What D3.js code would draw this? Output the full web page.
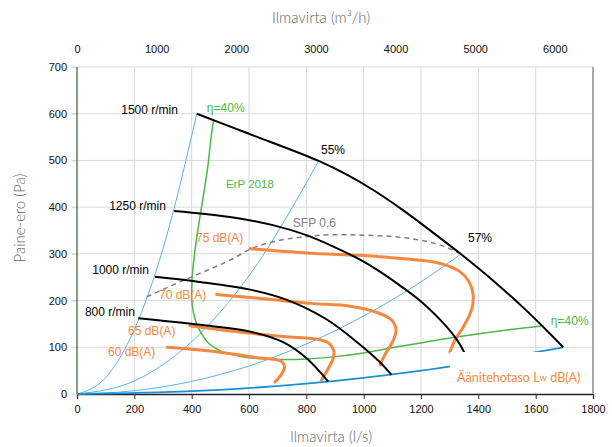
<!DOCTYPE html>
<html><head><meta charset="utf-8">
<script src="https://cdn.jsdelivr.net/npm/d3@7"></script>
<style>body{margin:0;background:#fff}svg{display:block}</style>
</head><body>
<svg id="c" width="612" height="447"></svg>
<script>
// ---- data (flow l/s, pressure Pa) ----
const xTicks = [0,200,400,600,800,1000,1200,1400,1600,1800];
const yTicks = [0,100,200,300,400,500,600,700];
const topTicks = [0,1000,2000,3000,4000,5000,6000]; // m3/h

const fan1500 = [[418,600],[600,557],[843,499],[943,469],[1043,433],[1143,391],[1243,345],[1340,299],[1451,243],[1567,179],[1637,137],[1696,100]];
const fan1250 = [[339,392],[534,379],[680,362],[800,340],[900,314],[989,287],[1054,263],[1127,232],[1206,195],[1270,157],[1322,119],[1352,88],[1370,62]];
const fan1000 = [[272,251],[428,240],[600,224],[730,202],[870,160],[975,112],[1057,68],[1097,41]];
const fan800  = [[214,162],[430,148],[602,134],[719,111],[800,77],[876,27]];

const sysSteep = [[0,0],[100,35],[200,138],[300,311],[418,600]];
const sys55    = [[0,0],[200,28],[400,112],[600,253],[843,499]];
const sys57    = [[0,0],[200,7],[400,27],[600,60],[800,107],[1000,167],[1200,240],[1340,300]];
const sysLow   = [[0,0],[400,6],[800,22],[1200,50],[1696,100]];

const eta40 = [[476,586],[466,540],[457,490],[445,440],[429,380],[410,300],[401,240],[402,190],[412,160],[429,135],[460,108],[499,93],[545,84],[592,78],[700,74],[800,75],[900,80],[1000,88],[1127,102],[1313,121],[1500,137],[1628,146]];
const sfp06 = [[243,208],[330,232],[420,256],[545,290],[604,310],[700,328],[801,337],[900,341],[1000,340],[1100,337],[1200,329],[1280,316],[1340,300]];

const db75 = [[604,311],[800,302],[975,297],[1057,294],[1150,289],[1264,280],[1336,262],[1368,240],[1382,212],[1376,180],[1348,144],[1318,115],[1301,90]];
const db70 = [[487,213],[650,204],[813,194],[952,188],[1045,175],[1098,158],[1113,137],[1101,112],[1074,84],[1057,62]];
const db65 = [[394,146],[560,133],[720,123],[848,116],[880,108],[896,92],[893,75],[877,55],[853,30]];
const db60 = [[315,100],[429,94],[550,85],[638,77],[700,73],[718,67],[724,57],[712,41],[691,26]];

// label texts with anchor points in data units
const rpmLabels = [["1500 r/min",352,608],["1250 r/min",310,402],["1000 r/min",251,265],["800 r/min",202,176]];
const dbLabels  = [["75 dB(A)",415,334],["70 dB(A)",286,212],["65 dB(A)",178,135],["60 dB(A)",108,90]];
const effLabels = [["55%",851,522],["57%",1364,334]];
const etaLabels = [["η=40%",453,612],["η=40%",1653,156]];
const erpLabel  = ["ErP 2018",520,450];
const sfpLabel  = ["SFP 0,6",753,366];
const noiseLabel = [1326,36];
const noiseBox = [[1301,90],[1795,5]];

// ---- chart ----
const svg = d3.select("#c");
const x = d3.scaleLinear([0,1800],[77,593]);
const y = d3.scaleLinear([0,700],[394,67]);
const xTop = d3.scaleLinear([0,1800*3.6],[77,593]);
const tickFont = "'Liberation Sans', Arial, sans-serif";
const titleFont = "Lato, 'Open Sans', sans-serif";
const fmt = d3.format("d");

// grid
svg.append("g").selectAll("line").data(xTicks.slice(1)).join("line")
  .attr("x1",d=>x(d)).attr("x2",d=>x(d)).attr("y1",y(700)).attr("y2",y(0))
  .attr("stroke","#d9d9d9").attr("stroke-width",1);
svg.append("g").selectAll("line").data(yTicks.slice(1)).join("line")
  .attr("x1",x(0)-5).attr("x2",x(1800)).attr("y1",d=>y(d)).attr("y2",d=>y(d))
  .attr("stroke","#d9d9d9").attr("stroke-width",1);

// axes
const gx = svg.append("g").attr("transform",`translate(0,${y(0)})`)
  .call(d3.axisBottom(x).tickValues(xTicks).tickFormat(fmt).tickSize(5).tickPadding(6));
gx.select(".domain").attr("stroke","#222").attr("stroke-width",1.3);
gx.selectAll(".tick line").attr("stroke","#333");
gx.selectAll("text").attr("font-family",tickFont).attr("font-size",11).attr("fill","#111");

const gy = svg.append("g").attr("transform",`translate(${x(0)},0)`)
  .call(d3.axisLeft(y).tickValues(yTicks).tickFormat(fmt).tickSize(5).tickPadding(5));
gy.select(".domain").remove();
gy.selectAll(".tick line").attr("stroke","#d9d9d9");
gy.selectAll("text").attr("font-family",tickFont).attr("font-size",11).attr("fill","#111");

const gt = svg.append("g").attr("transform",`translate(0,${y(700)})`)
  .call(d3.axisTop(xTop).tickValues(topTicks).tickFormat(fmt).tickSize(0).tickPadding(14));
gt.select(".domain").remove();
gt.selectAll("text").attr("font-family",tickFont).attr("font-size",11).attr("fill","#111");

// left axis line (dark with green dots) and right border
svg.append("line").attr("x1",x(0)).attr("x2",x(0)).attr("y1",y(700)).attr("y2",y(0))
  .attr("stroke","#1d3d1d").attr("stroke-width",1);
svg.append("line").attr("x1",x(0)).attr("x2",x(0)).attr("y1",y(700)).attr("y2",y(0))
  .attr("stroke","#4cb848").attr("stroke-width",1).attr("stroke-dasharray","1,2");
svg.append("line").attr("x1",x(1800)).attr("x2",x(1800)).attr("y1",y(700)).attr("y2",y(0))
  .attr("stroke","#7f7f7f").attr("stroke-width",1.2);

const lineMono = d3.line().x(d=>x(d[0])).y(d=>y(d[1])).curve(d3.curveMonotoneX);
const lineCR = d3.line().x(d=>x(d[0])).y(d=>y(d[1])).curve(d3.curveCatmullRom.alpha(0.5));

// system curves
[sysSteep,sys55,sys57].forEach(s=>svg.append("path").attr("d",lineMono(s))
  .attr("fill","none").attr("stroke","#5ab4e5").attr("stroke-width",1));
svg.append("path").attr("d",lineMono(sysLow)).attr("fill","none")
  .attr("stroke","#1b8fd6").attr("stroke-width",1.8);

// SFP dashed
svg.append("path").attr("d",lineMono(sfp06)).attr("fill","none")
  .attr("stroke","#7f7f7f").attr("stroke-width",1.5).attr("stroke-dasharray","5,4");

// efficiency 40%
svg.append("path").attr("d",lineCR(eta40)).attr("fill","none")
  .attr("stroke","#4cb848").attr("stroke-width",1.5);

// noise curves
[db75,db70,db65,db60].forEach(s=>svg.append("path").attr("d",lineCR(s))
  .attr("fill","none").attr("stroke","#f58840").attr("stroke-width",3).attr("stroke-linecap","round"));

// fan curves
[fan1500,fan1250,fan1000,fan800].forEach(s=>svg.append("path").attr("d",lineCR(s))
  .attr("fill","none").attr("stroke","#000").attr("stroke-width",2));

// white label box
svg.append("rect").attr("x",x(noiseBox[0][0])).attr("y",y(noiseBox[0][1]))
  .attr("width",x(noiseBox[1][0])-x(noiseBox[0][0])).attr("height",y(noiseBox[1][1])-y(noiseBox[0][1]))
  .attr("fill","#fff");

// labels
const lab = (t,px,py,color,anchor,size,font)=>svg.append("text").text(t)
  .attr("x",x(px)).attr("y",y(py)).attr("dominant-baseline","central")
  .attr("text-anchor",anchor).attr("fill",color).attr("font-size",size)
  .attr("font-family",font||tickFont);
rpmLabels.forEach(d=>lab(d[0],d[1],d[2],"#000","end",12));
dbLabels.forEach(d=>lab(d[0],d[1],d[2],"#f58840","start",12));
effLabels.forEach(d=>lab(d[0],d[1],d[2],"#000","start",12));
etaLabels.forEach(d=>lab(d[0],d[1],d[2],"#4cb848","start",12));
lab(erpLabel[0],erpLabel[1],erpLabel[2],"#4cb848","start",11.5);
lab(sfpLabel[0],sfpLabel[1],sfpLabel[2],"#808080","start",12);

const nt = svg.append("text").attr("x",x(noiseLabel[0])).attr("y",y(noiseLabel[1]))
  .attr("dominant-baseline","central").attr("fill","#f58840")
  .attr("font-size",12.5).attr("font-family",titleFont);
nt.append("tspan").text("Äänitehotaso L");
nt.append("tspan").text("w").attr("font-size",9.5);
nt.append("tspan").text(" dB(A)");

// axis titles
const titleStyle = s=>s.attr("text-anchor","middle").attr("dominant-baseline","central")
  .attr("font-family",titleFont).attr("font-size",15).attr("font-weight",300).attr("fill","#666");
svg.append("text").text("Ilmavirta (m³/h)").attr("x",321).attr("y",17).call(titleStyle);
svg.append("text").text("Ilmavirta (l/s)").attr("x",331).attr("y",436).call(titleStyle);
svg.append("text").text("Paine-ero (Pa)").attr("transform","translate(19,218) rotate(-90)").call(titleStyle);
</script>
</body></html>
